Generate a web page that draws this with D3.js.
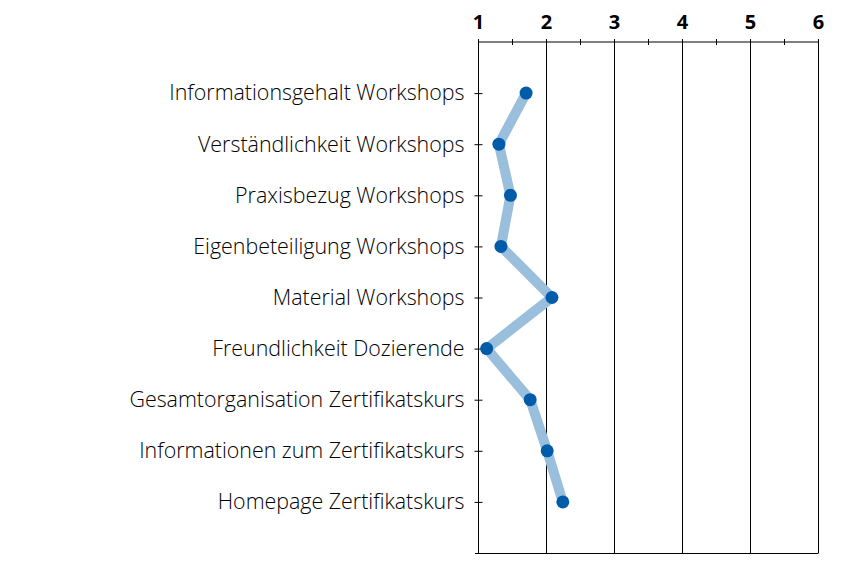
<!DOCTYPE html>
<html>
<head>
<meta charset="utf-8">
<script src="https://cdn.jsdelivr.net/npm/d3@7"></script>
<style>
  body { margin: 0; background: #fff; }
</style>
</head>
<body>
<div id="container"></div>
<script>
const width = 867;
const height = 577;

const items = [
  "Informationsgehalt Workshops",
  "Verständlichkeit Workshops",
  "Praxisbezug Workshops",
  "Eigenbeteiligung Workshops",
  "Material Workshops",
  "Freundlichkeit Dozierende",
  "Gesamtorganisation Zertifikatskurs",
  "Informationen zum Zertifikatskurs",
  "Homepage Zertifikatskurs",
];
const scores = [1.70, 1.30, 1.47, 1.33, 2.08, 1.12, 1.76, 2.01, 2.24];
const majorTicks = [1, 2, 3, 4, 5, 6];
const minorTicks = [1.5, 2.5, 3.5, 4.5, 5.5];

const lineColor = "#99bfdc";
const dotColor = "#005ca8";

const svg = d3
  .select("#container")
  .append("svg")
  .attr("width", width)
  .attr("height", height);

const xScale = d3.scaleLinear().domain([1, 6]).range([478.5, 818.5]);
const yScale = d3.scalePoint().domain(items).range([42, 553]).padding(1);

// vertical grid lines
svg
  .append("g")
  .selectAll("line")
  .data(majorTicks)
  .enter()
  .append("line")
  .attr("x1", (d) => xScale(d))
  .attr("x2", (d) => xScale(d))
  .attr("y1", 42)
  .attr("y2", 553)
  .attr("stroke", "#000")
  .attr("stroke-width", 1);

// bottom line
svg
  .append("line")
  .attr("x1", 475)
  .attr("x2", xScale(6))
  .attr("y1", 553.5)
  .attr("y2", 553.5)
  .attr("stroke", "#000")
  .attr("stroke-width", 1.2);

// top axis
const topAxis = svg.append("g").attr("transform", "translate(0, 42)");
topAxis
  .append("line")
  .attr("x1", xScale(1))
  .attr("x2", xScale(6))
  .attr("stroke", "#000");
topAxis
  .selectAll(".tick")
  .data(majorTicks.concat(minorTicks))
  .enter()
  .append("line")
  .attr("x1", (d) => xScale(d))
  .attr("x2", (d) => xScale(d))
  .attr("y1", -3)
  .attr("y2", 3)
  .attr("stroke", "#000");
topAxis
  .selectAll("text")
  .data(majorTicks)
  .enter()
  .append("text")
  .attr("x", (d) => xScale(d))
  .attr("y", -13)
  .attr("text-anchor", "middle")
  .style("font-family", "'Open Sans', sans-serif")
  .style("font-weight", "bold")
  .style("font-size", "20px")
  .text((d) => d);

// left axis
const leftAxis = d3.axisLeft(yScale).tickSize(4).tickSizeOuter(0);
const gy = svg
  .append("g")
  .attr("transform", `translate(${xScale(1)}, 0)`)
  .call(leftAxis);
gy.select(".domain").remove();
gy.selectAll(".tick line").attr("x2", 4).attr("x1", -4);
gy.selectAll(".tick text")
  .attr("x", -14)
  .style("font-family", "'Open Sans', sans-serif")
  .style("font-weight", "300")
  .style("font-size", "21.4px")
  .attr("fill", "#000");

// series
const line = d3
  .line()
  .x((d) => xScale(d))
  .y((d, i) => yScale(items[i]));

svg
  .append("path")
  .datum(scores)
  .attr("d", line)
  .attr("fill", "none")
  .attr("stroke", lineColor)
  .attr("stroke-width", 10)
  .attr("stroke-linejoin", "round");

svg
  .selectAll(".dot")
  .data(scores)
  .enter()
  .append("circle")
  .attr("class", "dot")
  .attr("cx", (d) => xScale(d))
  .attr("cy", (d, i) => yScale(items[i]))
  .attr("r", 6.5)
  .attr("fill", dotColor);
</script>
</body>
</html>
